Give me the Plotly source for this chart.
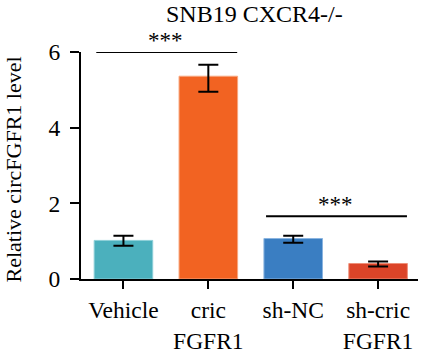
import plotly.graph_objects as go

categories = ["Vehicle", "cric<br>FGFR1", "sh-NC", "sh-cric<br>FGFR1"]
values = [1.02, 5.36, 1.07, 0.41]
err_plus = [0.12, 0.30, 0.07, 0.05]
err_minus = [0.14, 0.41, 0.11, 0.08]
colors = ["#4BB0BD", "#F26322", "#3A7EC2", "#DC4428"]
outline = ["#8CCFD8", "#F8A77F", "#8AB4E0", "#EE8F78"]
y_ticks = [0, 2, 4, 6]
sig_pairs = [(0, 1, 6.0), (2, 3, 1.66)]
sig_text = "***"

FONT = "Liberation Serif, DejaVu Serif, serif"
xpos = list(range(len(categories)))

fig = go.Figure()
fig.add_trace(go.Bar(
    x=xpos, y=values, width=0.69,
    marker=dict(color=colors, line=dict(color=outline, width=1)),
    error_y=dict(type="data", symmetric=False, array=err_plus, arrayminus=err_minus,
                 color="black", thickness=2, width=10),
    showlegend=False, hoverinfo="skip",
))

for a, b, h in sig_pairs:
    fig.add_shape(type="line", xref="x", yref="y", x0=a - 0.32, x1=b + 0.34, y0=h, y1=h,
                  line=dict(color="black", width=2))
    fig.add_annotation(x=(a + b) / 2, y=h, xref="x", yref="y", text=sig_text,
                       showarrow=False, yanchor="bottom", yshift=-3,
                       font=dict(family=FONT, size=23, color="black"))

fig.add_annotation(x=(255 - 81) / 337, y=1, xref="paper", yref="paper",
                   text="SNB19 CXCR4-/-", showarrow=False, yanchor="middle",
                   yshift=38, font=dict(family=FONT, size=24, color="black"))

fig.add_annotation(x=(13 - 81) / 337, y=0.5, xref="paper", yref="paper",
                   text="Relative circFGFR1 level", showarrow=False, textangle=-90,
                   xanchor="center", yanchor="middle", yshift=-4,
                   font=dict(family=FONT, size=22, color="black"))

fig.update_layout(
    width=422, height=357,
    margin=dict(l=81, r=4, t=52, b=78, autoexpand=False),
    plot_bgcolor="white", paper_bgcolor="white",
    font=dict(family=FONT, size=23.5, color="black"),
    xaxis=dict(range=[-0.5, 3.47], tickmode="array", tickvals=xpos, ticktext=categories,
               showline=True, linecolor="black", linewidth=2, ticks="outside",
               ticklen=8, tickwidth=2, tickcolor="black", showgrid=False, zeroline=False,
               automargin=False, ticklabelstandoff=1),
    yaxis=dict(range=[0, 6], tickvals=y_ticks, showline=True, linecolor="black",
               linewidth=2, ticks="outside", ticklen=9, tickwidth=2, tickcolor="black",
               showgrid=False, zeroline=False, ticklabelstandoff=5, automargin=False),
)

fig.write_html("out.html", config={"displayModeBar": False},
               post_script="document.body.style.margin='0';document.body.style.padding='0';")
